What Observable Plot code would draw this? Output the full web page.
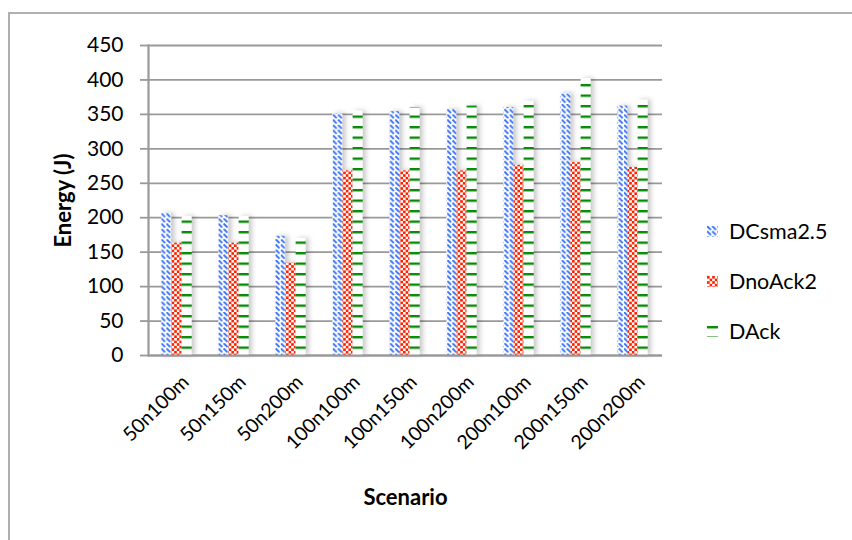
<!DOCTYPE html>
<html>
<head>
<meta charset="utf-8">
<script src="https://cdn.jsdelivr.net/npm/d3@7"></script>
<script src="https://cdn.jsdelivr.net/npm/@observablehq/plot@0.6"></script>
<style>
  body { margin: 0; background: #fff; }
  #wrap { position: relative; width: 852px; height: 540px; overflow: hidden; font-family: Lato, "Open Sans", sans-serif; color: #000; }
  #border { position: absolute; left: 8px; top: 12px; right: -4px; bottom: -4px; border-top: 2px solid #b0b0b0; border-left: 2px solid #b0b0b0; pointer-events: none; }
  #chart { position: absolute; left: 0; top: 0; }
  #chart svg { font-family: Lato, "Open Sans", sans-serif; color: #000; }
  #chart g[aria-label="bar"] { filter: drop-shadow(3px 0px 2.5px rgba(0,0,0,0.22)); }
  #legend { position: absolute; left: 707px; top: 206px; }
  .item { display: flex; align-items: center; height: 50px; font-size: 21.5px; }
  .item svg { margin-right: 11px; }
</style>
</head>
<body>
<svg width="0" height="0" style="position:absolute">
  <defs>
    <pattern id="pat-dcsma" patternUnits="userSpaceOnUse" width="8" height="8" patternTransform="scale(1.3)">
      <rect width="8" height="8" fill="#fff"/>
      <path d="M0,0L3,3M4,4L7,7M4,0L7,3M0,4L3,7" stroke="#3a72f5" stroke-width="1.5"/>
    </pattern>
    <pattern id="pat-dnoack" patternUnits="userSpaceOnUse" width="5.2" height="5.2">
      <rect width="5.2" height="5.2" fill="#fff"/>
      <rect width="2.6" height="2.6" fill="#ff2200"/>
      <rect x="2.6" y="2.6" width="2.6" height="2.6" fill="#ff2200"/>
    </pattern>
    <pattern id="pat-dack" patternUnits="userSpaceOnUse" width="10" height="10.5">
      <rect width="10" height="10.5" fill="#fff"/>
      <rect y="0" width="10" height="2.4" fill="#078a07"/>
    </pattern>
  </defs>
</svg>
<div id="wrap">
  <div id="chart"></div>
  <div id="border"></div>
  <div id="legend"></div>
</div>
<script>
// Energy consumed per scenario (nodes x area side) for each protocol variant
const scenarios = ["50n100m", "50n150m", "50n200m", "100n100m", "100n150m", "100n200m", "200n100m", "200n150m", "200n200m"];
const seriesNames = ["DCsma2.5", "DnoAck2", "DAck"];
const dcsma = [206, 203, 173, 351, 354, 357, 360, 381, 362];
const dnoack = [163, 163, 134, 268, 268, 268, 276, 280, 273];
const dack = [202, 202, 170, 355, 360, 362, 369, 402, 371];
const yTicks = [0, 50, 100, 150, 200, 250, 300, 350, 400, 450];
const yTitle = "Energy (J)";
const xTitle = "Scenario";
const fills = ["url(#pat-dcsma)", "url(#pat-dnoack)", "url(#pat-dack)"];

const seriesValues = [dcsma, dnoack, dack];
const rows = seriesValues.map((vals, s) =>
  scenarios.map((scenario, i) => ({scenario, series: seriesNames[s], value: vals[i]}))
);

const width = 852, height = 540;
const marginLeft = 148, marginRight = 190, marginTop = 45, marginBottom = 185;
const band = (width - marginLeft - marginRight) / scenarios.length;
const barW = band * 0.178;
const groupStart = (band - 3 * barW) / 2 - 1;

// three adjacent bars per scenario, carved out of each band with insets
const bars = rows.map((data, s) => {
  const insetLeft = groupStart + s * barW;
  const insetRight = band - insetLeft - barW;
  return Plot.barY(data, {x: "scenario", y: "value", fill: fills[s], insetLeft, insetRight});
});

const chart = Plot.plot({
  width, height, marginLeft, marginRight, marginTop, marginBottom,
  style: {fontSize: "21px", fontFamily: "Lato, 'Open Sans', sans-serif", background: "transparent", color: "#000"},
  x: {type: "band", domain: scenarios, paddingInner: 0, paddingOuter: 0, axis: null},
  y: {domain: [0, 450], axis: null},
  marks: [
    Plot.gridY(yTicks, {stroke: "#999", strokeOpacity: 1, strokeWidth: 1.8}),
    ...bars,
    Plot.ruleY([0], {stroke: "#999", strokeWidth: 2.2}),
    Plot.frame({anchor: "left", stroke: "#999", strokeWidth: 2.2}),
    Plot.axisY({ticks: yTicks, tickSize: 8, tickPadding: 17, stroke: "#999", strokeWidth: 1.8,
      label: null, fontSize: 21}),
    Plot.text(scenarios, {x: d => d, frameAnchor: "bottom", rotate: -45, textAnchor: "end",
      lineAnchor: "bottom", dx: 12, dy: 28, fontSize: 19.5, fill: "#000"}),
    Plot.text([yTitle], {frameAnchor: "left", rotate: -90, textAnchor: "middle", lineAnchor: "middle",
      dx: -85, fontSize: 22, fontWeight: "bold", fill: "#000"}),
    Plot.text([xTitle], {frameAnchor: "bottom", textAnchor: "middle", lineAnchor: "middle",
      dy: 142, fontSize: 22, fontWeight: "bold", fill: "#000"})
  ]
});
document.getElementById("chart").append(chart);

// legend to the right of the plot
const legend = d3.select("#legend");
seriesNames.forEach((name, s) => {
  const item = legend.append("div").attr("class", "item");
  const sw = item.append("svg").attr("width", 11).attr("height", 11);
  sw.append("rect").attr("width", 11).attr("height", 11).attr("fill", fills[s]);
  item.append("span").text(name);
});
</script>
</body>
</html>
